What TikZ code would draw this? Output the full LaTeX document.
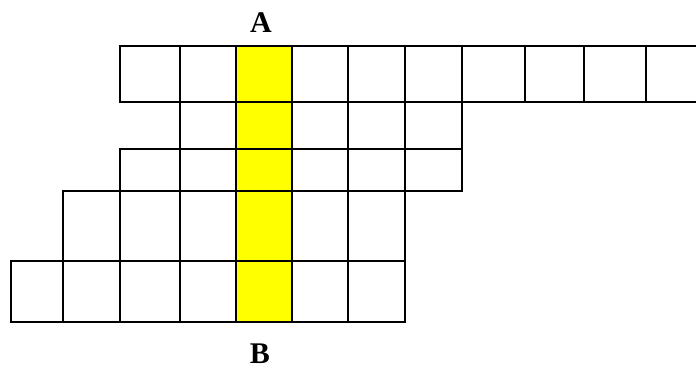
\documentclass[tikz,border=0pt]{standalone}
\usepackage{fontspec}
\setmainfont{Liberation Serif}
\definecolor{hilite}{RGB}{255,255,0}
\begin{document}
\begin{tikzpicture}[x=1pt,y=-1pt,
  cell/.style={draw=black, line width=1.6pt},
  lbl/.style={font=\fontsize{30}{34}\selectfont\bfseries, inner sep=0pt}]
\useasboundingbox (0,0) rectangle (696,367);
\clip (0,0) rectangle (696,367);

% highlighted column
\fill[hilite] (236,46) rectangle (292,322);

% row 1
\foreach \xa/\xb in {120/180,180/236,236/292,292/348,348/405,405/462,462/525,525/584,584/646,646/710}
  \draw[cell] (\xa,46) rectangle (\xb,102);
% row 2
\foreach \xa/\xb in {180/236,236/292,292/348,348/405,405/462}
  \draw[cell] (\xa,102) rectangle (\xb,149);
% row 3
\foreach \xa/\xb in {120/180,180/236,236/292,292/348,348/405,405/462}
  \draw[cell] (\xa,149) rectangle (\xb,191);
% row 4
\foreach \xa/\xb in {63/120,120/180,180/236,236/292,292/348,348/405}
  \draw[cell] (\xa,191) rectangle (\xb,261);
% row 5
\foreach \xa/\xb in {11/63,63/120,120/180,180/236,236/292,292/348,348/405}
  \draw[cell] (\xa,261) rectangle (\xb,322);

% labels
\node[lbl] (A) at (261,22.5) {A};
\node[lbl] (B) at (260,353.5) {B};
\end{tikzpicture}
\end{document}
